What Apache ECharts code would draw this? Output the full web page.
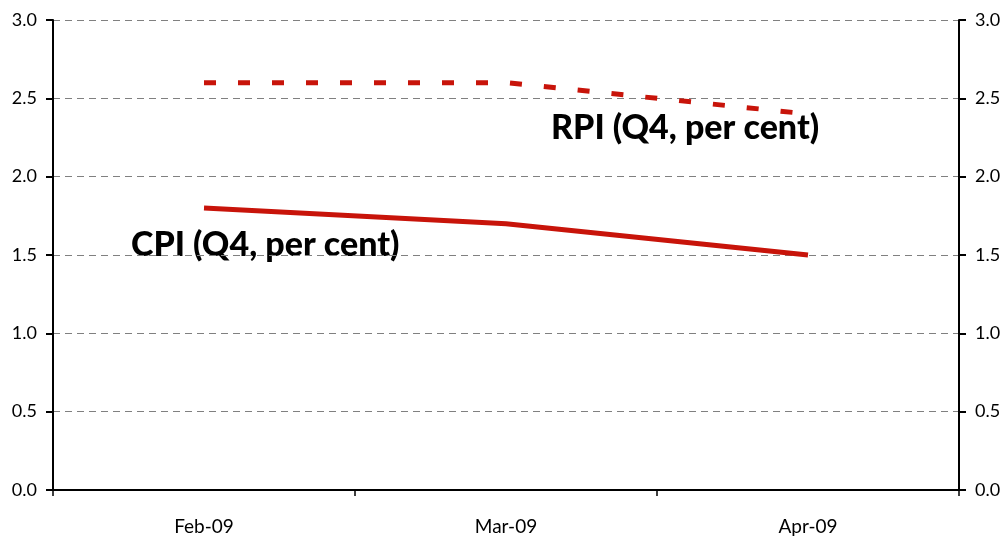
<!DOCTYPE html>
<html>
<head>
<meta charset="UTF-8">
<title>CPI / RPI</title>
<script src="https://cdn.jsdelivr.net/npm/echarts@6/dist/echarts.min.js"></script>
<style>
  html, body { margin: 0; padding: 0; background: #fff; }
  #main { width: 1007px; height: 542px; }
</style>
</head>
<body>
<div id="main"></div>
<script>
// data
var months = ['Feb-09', 'Mar-09', 'Apr-09'];
var cpi = [1.8, 1.7, 1.5];
var rpi = [2.6, 2.6, 2.4];
var yTicks = [0, 0.5, 1, 1.5, 2, 2.5, 3];

var FONT = 'Lato';
var RED = '#c8140a';

function valueAxis(pos) {
  return {
    type: 'value',
    position: pos,
    min: yTicks[0],
    max: yTicks[yTicks.length - 1],
    interval: yTicks[1] - yTicks[0],
    axisLine: { show: true, lineStyle: { color: '#000', width: 2 } },
    axisTick: { show: true, length: 7, lineStyle: { color: '#000', width: 2 } },
    axisLabel: {
      margin: 16,
      color: '#000',
      fontFamily: FONT,
      fontSize: 18,
      formatter: function (v) { return v.toFixed(1); }
    },
    splitLine: {
      show: pos === 'left',
      lineStyle: { color: '#808080', type: [7, 5], width: 1 }
    }
  };
}

var myChart = echarts.init(document.getElementById('main'));
var option = {
  animation: false,
  grid: { left: 53, right: 48, top: 20, bottom: 52 },
  xAxis: [
    {
      type: 'category',
      data: months,
      boundaryGap: true,
      axisLine: { lineStyle: { color: '#000', width: 2 } },
      axisTick: { show: true, length: 6, lineStyle: { color: '#000', width: 1.5 } },
      axisLabel: { margin: 27, color: '#000', fontFamily: FONT, fontSize: 19 }
    },
    {
      // top frame line
      type: 'category',
      data: months,
      position: 'top',
      axisLine: { lineStyle: { color: '#000', width: 2 } },
      axisTick: { show: false },
      axisLabel: { show: false }
    }
  ],
  yAxis: [valueAxis('left'), valueAxis('right')],
  series: [
    {
      name: 'CPI (Q4, per cent)',
      type: 'line',
      data: cpi,
      symbol: 'none',
      lineStyle: { color: RED, width: 5 }
    },
    {
      name: 'RPI (Q4, per cent)',
      type: 'line',
      data: rpi,
      symbol: 'none',
      lineStyle: { color: RED, width: 5, type: [12, 22], cap: 'butt' }
    }
  ],
  graphic: [
    {
      type: 'text', left: 131, top: 228,
      style: { text: 'CPI (Q4, per cent)', fill: '#000', font: '900 34px ' + FONT }
    },
    {
      type: 'text', left: 551, top: 111,
      style: { text: 'RPI (Q4, per cent)', fill: '#000', font: '900 34px ' + FONT }
    }
  ]
};
myChart.setOption(option);
</script>
</body>
</html>
